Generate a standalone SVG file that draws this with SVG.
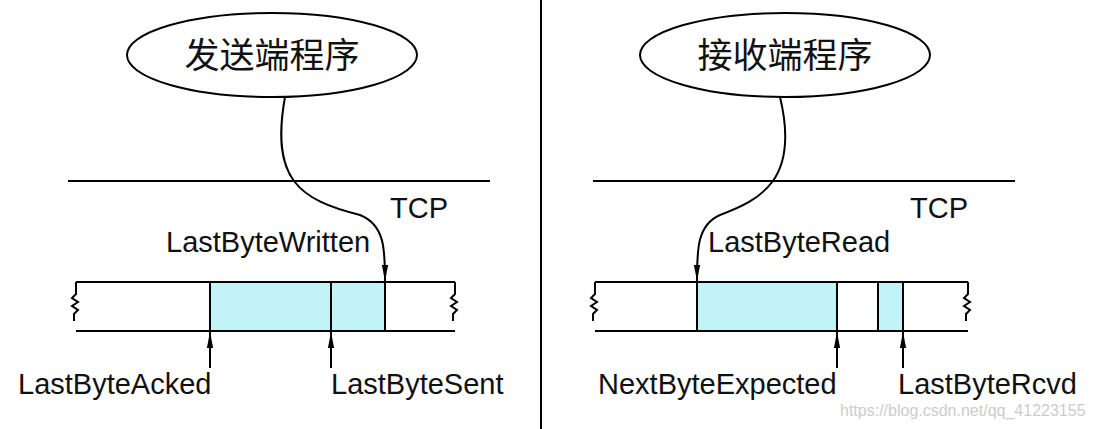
<svg xmlns="http://www.w3.org/2000/svg" width="1093" height="429" viewBox="0 0 1093 429">
<style>
.l{stroke:#000;stroke-width:2;fill:none}
.t{font-family:"Liberation Sans",Arial,sans-serif;font-size:29px;fill:#111}
.c{font-family:"Noto Sans CJK SC","Liberation Serif",serif;font-size:35px;fill:#111}
.buf{fill:#c2f3f7}
</style>
<defs>
<marker id="a" viewBox="0 0 10 16" refX="10" refY="8" markerWidth="16" markerHeight="10" orient="auto" markerUnits="userSpaceOnUse" preserveAspectRatio="none"><path d="M0,3L10,8L0,13z" fill="#000"/></marker>
</defs>
<rect width="1093" height="429" fill="#fff"/>
<line x1="541" y1="0" x2="541" y2="429" class="l"/>
<g id="sender">
<ellipse cx="272" cy="55" rx="145" ry="42" class="l"/>
<text x="272" y="68" text-anchor="middle" class="c">发送端程序</text>
</g>
<g id="receiver">
<ellipse cx="785" cy="55" rx="145" ry="42" class="l"/>
<text x="785" y="68" text-anchor="middle" class="c">接收端程序</text>
</g>
<g id="tcp-left">
<line x1="68" y1="181" x2="490" y2="181" class="l"/>
<text x="390" y="218" class="t">TCP</text>
</g>
<g id="tcp-right">
<line x1="593" y1="181" x2="1015" y2="181" class="l"/>
<text x="910" y="218" class="t">TCP</text>
</g>
<g id="buffer-left">
<rect x="210" y="282" width="175" height="49" class="buf"/>
<path d="M76,282H455M76,331H455" class="l"/>
<path d="M76,282v12l-4,4l6,4l-6,4l6,4l-4,4v7M455,282v12l-4,4l6,4l-6,4l6,4l-4,4v7" class="l"/>
<path d="M210,282V331M331,282V331M385,282V331" class="l"/>
</g>
<g id="buffer-right">
<rect x="697" y="282" width="140" height="49" class="buf"/>
<rect x="878" y="282" width="25" height="49" class="buf"/>
<path d="M595,282H968M595,331H968" class="l"/>
<path d="M595,282v12l-4,4l6,4l-6,4l6,4l-4,4v7M968,282v12l-4,4l6,4l-6,4l6,4l-4,4v7" class="l"/>
<path d="M697,282V331M837,282V331M878,282V331M903,282V331" class="l"/>
</g>
<g id="labels">
<text x="166" y="252" class="t">LastByteWritten</text>
<text x="18" y="394" class="t">LastByteAcked</text>
<text x="331" y="394" class="t">LastByteSent</text>
<text x="708" y="252" class="t">LastByteRead</text>
<text x="598" y="394" class="t">NextByteExpected</text>
<text x="898" y="394" class="t">LastByteRcvd</text>
<text x="840" y="416" style="font-family:'Liberation Sans',sans-serif;font-size:16px;fill:#ccc">https://blog.csdn.net/qq_41223155</text>
</g>
<g id="connectors">
<path d="M285,97C270,180 300,200 360,215C385,225 385,250 385,281" class="l" marker-end="url(#a)"/>
<path d="M780,97C800,180 760,200 720,215C697,225 697,250 697,281" class="l" marker-end="url(#a)"/>
<path d="M210,368V332" class="l" marker-end="url(#a)"/>
<path d="M331,368V332" class="l" marker-end="url(#a)"/>
<path d="M837,368V332" class="l" marker-end="url(#a)"/>
<path d="M903,368V332" class="l" marker-end="url(#a)"/>
</g>
</svg>
